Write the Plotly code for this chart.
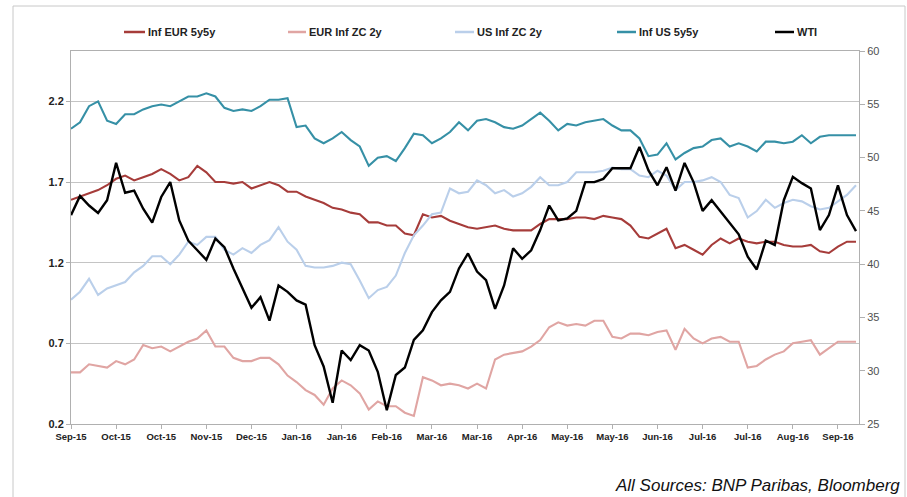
import plotly.graph_objects as go

# day index (business days, every 3rd observation)
days = list(range(0, 262, 3))

tick_days = list(range(0, 256, 15))
tick_labels = ["Sep-15", "Oct-15", "Oct-15", "Nov-15", "Dec-15", "Jan-16", "Jan-16", "Feb-16", "Mar-16",
               "Mar-16", "Apr-16", "May-16", "May-16", "Jun-16", "Jul-16", "Jul-16", "Aug-16", "Sep-16"]

inf_eur_5y5y = [1.59, 1.61, 1.63, 1.65, 1.68, 1.72, 1.74, 1.71, 1.73, 1.75,
                1.78, 1.75, 1.71, 1.73, 1.80, 1.76, 1.70, 1.70, 1.69, 1.70,
                1.66, 1.68, 1.70, 1.68, 1.64, 1.64, 1.61, 1.59, 1.57, 1.54,
                1.53, 1.51, 1.50, 1.45, 1.45, 1.43, 1.43, 1.38, 1.37, 1.50,
                1.48, 1.49, 1.46, 1.44, 1.42, 1.41, 1.42, 1.43, 1.41, 1.40,
                1.40, 1.40, 1.44, 1.47, 1.47, 1.47, 1.48, 1.48, 1.47, 1.49,
                1.48, 1.47, 1.43, 1.36, 1.35, 1.38, 1.41, 1.29, 1.31, 1.28,
                1.25, 1.31, 1.35, 1.32, 1.35, 1.33, 1.32, 1.33, 1.33, 1.31,
                1.30, 1.30, 1.31, 1.27, 1.26, 1.30, 1.33, 1.33]

eur_inf_zc_2y = [0.52, 0.52, 0.57, 0.56, 0.55, 0.59, 0.57, 0.60, 0.69, 0.67,
                 0.68, 0.65, 0.68, 0.71, 0.73, 0.78, 0.68, 0.68, 0.61, 0.59,
                 0.59, 0.61, 0.61, 0.57, 0.50, 0.46, 0.41, 0.38, 0.32, 0.42,
                 0.47, 0.44, 0.39, 0.29, 0.34, 0.31, 0.31, 0.27, 0.25, 0.49,
                 0.47, 0.44, 0.45, 0.44, 0.42, 0.45, 0.42, 0.60, 0.63, 0.64,
                 0.65, 0.68, 0.72, 0.80, 0.83, 0.81, 0.82, 0.81, 0.84, 0.84,
                 0.74, 0.73, 0.76, 0.76, 0.75, 0.77, 0.78, 0.66, 0.79, 0.73,
                 0.70, 0.73, 0.74, 0.71, 0.71, 0.55, 0.56, 0.60, 0.63, 0.65,
                 0.70, 0.71, 0.72, 0.63, 0.67, 0.71, 0.71, 0.71]

us_inf_zc_2y = [0.97, 1.02, 1.10, 1.00, 1.04, 1.06, 1.08, 1.14, 1.18, 1.24,
                1.24, 1.19, 1.25, 1.33, 1.31, 1.36, 1.36, 1.28, 1.25, 1.29,
                1.26, 1.31, 1.34, 1.42, 1.33, 1.28, 1.18, 1.17, 1.17, 1.18,
                1.20, 1.19, 1.09, 0.98, 1.03, 1.05, 1.12, 1.26, 1.37, 1.43,
                1.50, 1.51, 1.66, 1.63, 1.64, 1.71, 1.68, 1.63, 1.65, 1.61,
                1.63, 1.67, 1.73, 1.68, 1.68, 1.70, 1.76, 1.76, 1.76, 1.77,
                1.79, 1.78, 1.78, 1.74, 1.73, 1.77, 1.74, 1.65, 1.70, 1.70,
                1.71, 1.73, 1.70, 1.62, 1.60, 1.48, 1.52, 1.59, 1.54, 1.57,
                1.59, 1.58, 1.55, 1.53, 1.54, 1.58, 1.62, 1.68]

inf_us_5y5y = [2.03, 2.07, 2.17, 2.20, 2.08, 2.06, 2.12, 2.12, 2.15, 2.17,
               2.18, 2.17, 2.20, 2.23, 2.23, 2.25, 2.23, 2.16, 2.14, 2.15,
               2.14, 2.17, 2.21, 2.21, 2.22, 2.04, 2.05, 1.97, 1.94, 1.97,
               2.01, 1.96, 1.92, 1.80, 1.85, 1.86, 1.83, 1.91, 2.00, 1.99,
               1.94, 1.97, 2.01, 2.07, 2.02, 2.08, 2.09, 2.07, 2.04, 2.03,
               2.05, 2.09, 2.13, 2.08, 2.02, 2.06, 2.05, 2.07, 2.08, 2.09,
               2.05, 2.02, 2.02, 1.97, 1.86, 1.87, 1.94, 1.84, 1.88, 1.91,
               1.92, 1.96, 1.97, 1.92, 1.94, 1.92, 1.89, 1.95, 1.95, 1.94,
               1.95, 1.99, 1.94, 1.98, 1.99, 1.99, 1.99, 1.99]

wti = [44.6, 46.4, 45.5, 44.8, 46.0, 49.5, 46.7, 46.9, 45.2, 43.9,
       46.3, 47.7, 44.1, 42.2, 41.3, 40.4, 42.4, 41.6, 39.6, 37.8,
       35.9, 36.9, 34.7, 38.0, 37.4, 36.6, 36.2, 32.4, 30.4, 27.0,
       31.9, 31.0, 32.4, 31.9, 29.9, 26.3, 29.6, 30.3, 32.9, 33.8,
       35.5, 36.6, 37.4, 39.6, 41.0, 39.3, 38.5, 35.8, 38.0, 41.5,
       40.5, 41.3, 43.2, 45.5, 44.1, 44.3, 45.0, 47.7, 47.7, 48.0,
       49.0, 49.0, 49.0, 51.0, 48.8, 47.4, 49.1, 46.9, 49.5, 47.7,
       45.0, 46.0, 44.9, 43.9, 42.8, 40.7, 39.5, 42.2, 41.8, 46.0,
       48.2, 47.6, 47.1, 43.2, 44.6, 47.4, 44.6, 43.1]

series_names = ["Inf EUR 5y5y", "EUR Inf ZC 2y", "US Inf ZC 2y", "Inf US 5y5y", "WTI"]
series_values = [inf_eur_5y5y, eur_inf_zc_2y, us_inf_zc_2y, inf_us_5y5y, wti]
colors = ["#A63C3A", "#E0A5A3", "#BACFEA", "#3690A6", "#000000"]

W, H = 907, 497
L, R, T, B = 71, 48, 51, 73
PW, PH = W - L - R, H - T - B


def px_x(px):
    return (px - L) / PW


def px_y(py):
    return (H - B - py) / PH


sans = "Liberation Sans, Arial, sans-serif"

fig = go.Figure()
for name, vals, col in zip(series_names, series_values, colors):
    fig.add_trace(go.Scatter(x=days, y=vals, name=name, mode="lines",
                             yaxis="y2" if name == "WTI" else "y",
                             line=dict(color=col, width=2.4 if name == "WTI" else 2.1)))

# legend drawn as short line + label, Excel style
legend_px = [(124, 145), (288, 306), (455, 474), (617, 636), (775, 794)]
shapes = [dict(type="rect", xref="paper", yref="paper", x0=px_x(13), x1=px_x(905),
               y0=-0.3, y1=px_y(6), line=dict(color="#c8c8c8", width=1), layer="below")]
annotations = []
for (a, b), name, col in zip(legend_px, series_names, colors):
    shapes.append(dict(type="line", xref="paper", yref="paper", x0=px_x(a), x1=px_x(b),
                       y0=px_y(32), y1=px_y(32), line=dict(color=col, width=2.5)))
    annotations.append(dict(text="<b>%s</b>" % name, xref="paper", yref="paper", x=px_x(b + 1),
                            y=px_y(32), xanchor="left", yanchor="middle", showarrow=False,
                            font=dict(family=sans, size=11, color="#222222")))

annotations.append(dict(text="All Sources: BNP Paribas, Bloomberg", xref="paper", yref="paper",
                        x=px_x(902), y=px_y(497), xanchor="right", yanchor="bottom", showarrow=False,
                        font=dict(family=sans, size=17, color="#111111", style="italic")))

fig.update_layout(
    template="none",
    width=W, height=H,
    margin=dict(l=L, r=R, t=T, b=B, autoexpand=False),
    paper_bgcolor="white", plot_bgcolor="white",
    showlegend=False,
    xaxis=dict(range=[0, 262], tickvals=tick_days, ticktext=tick_labels,
               showgrid=False, zeroline=False, showline=True, linecolor="#b0b0b0", linewidth=1,
               mirror=True, ticks="outside", ticklen=4, tickcolor="#b0b0b0",
               tickfont=dict(family=sans, size=9.5, color="#222222", weight="bold"), automargin=False),
    yaxis=dict(range=[0.2, 2.512], tickvals=[0.2, 0.7, 1.2, 1.7, 2.2],
               ticktext=["0.2", "0.7", "1.2", "1.7", "2.2"],
               showgrid=True, gridcolor="#c4c4c4", gridwidth=1.2, zeroline=False,
               showline=True, linecolor="#b0b0b0", linewidth=1, ticks="outside", ticklen=4,
               tickcolor="#b0b0b0", tickfont=dict(family=sans, size=11, color="#222222", weight="bold"),
               automargin=False),
    yaxis2=dict(range=[25, 60], tickvals=[25, 30, 35, 40, 45, 50, 55, 60], overlaying="y",
                side="right", showgrid=False, zeroline=False, showline=True, linecolor="#b0b0b0",
                linewidth=1, ticks="outside", ticklen=5, tickcolor="#b0b0b0",
                tickfont=dict(family=sans, size=11, color="#505050"), automargin=False),
    shapes=shapes,
    annotations=annotations,
)

# drop the browser's default page margin so the figure sits at the top-left corner
fig.write_html("out.html", config={"displayModeBar": False},
               post_script="document.body.style.margin='0px';")
